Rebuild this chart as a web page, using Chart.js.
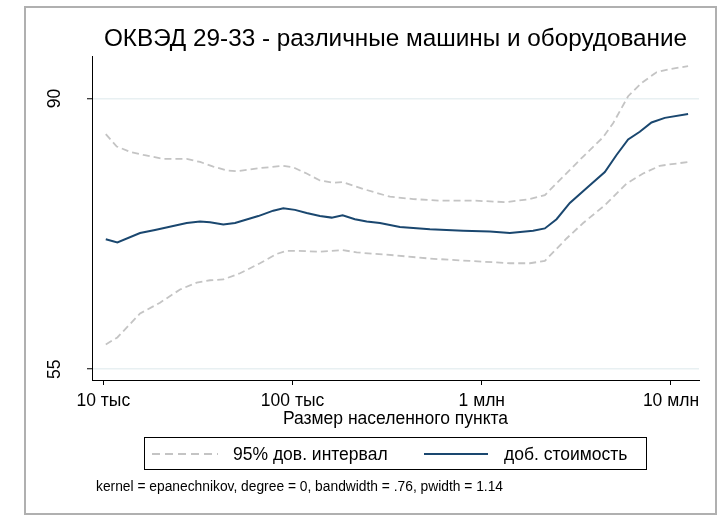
<!DOCTYPE html>
<html>
<head>
<meta charset="utf-8">
<script src="https://cdn.jsdelivr.net/npm/chart.js@4/dist/chart.umd.min.js"></script>
<style>
  body { margin: 0; background: #ffffff; }
</style>
</head>
<body>
<canvas id="chart" width="724" height="517"></canvas>
<script>
// Chart data (population of the settlement and value added)
const titleText = 'ОКВЭД 29-33 - различные машины и оборудование';
const xTitle = 'Размер населенного пункта';
const noteText = 'kernel = epanechnikov, degree = 0, bandwidth = .76, pwidth = 1.14';
const legendCI = '95% дов. интервал';
const legendMean = 'доб. стоимость';

const xTickValues = [10000, 100000, 1000000, 10000000];
const xTickLabels = ['10 тыс', '100 тыс', '1 млн', '10 млн'];
const yTickValues = [55, 90];

const popMean = [10300, 11860, 15630, 18750, 27580, 32430, 36630, 43050, 49630, 65900,
    79070, 89320, 102970, 118700, 139500, 160900, 183900, 213600, 246400, 289500,
    369300, 531900, 797500, 1104000, 1407000, 1868000, 2154000, 2484000, 2920000, 3724000,
    4470000, 5153000, 5935000, 6840000, 7888000, 9270000, 12310000];
const valMean = [71.8, 71.4, 72.6, 73.0, 73.9, 74.1, 74.0, 73.7, 73.9, 74.8,
    75.5, 75.8, 75.6, 75.2, 74.8, 74.6, 74.9, 74.4, 74.1, 73.9,
    73.4, 73.1, 72.9, 72.8, 72.6, 72.9, 73.2, 74.4, 76.5, 78.8,
    80.5, 82.7, 84.7, 85.7, 86.9, 87.5, 88.0];

const popUpper = [10300, 11770, 13840, 16270, 20750, 27580, 32430, 38110, 44860, 50660,
    67250, 89320, 100900, 118700, 139500, 164000, 183900, 236300, 327000, 434200,
    600700, 900700, 1352000, 1795000, 2154000, 2692000, 3434000, 4380000, 4943000, 5935000,
    6985000, 8384000, 9856000, 12310000];
const valUpper = [85.4, 83.8, 83.1, 82.7, 82.2, 82.2, 81.8, 81.2, 80.7, 80.6,
    81.0, 81.3, 81.1, 80.3, 79.4, 79.1, 79.2, 78.3, 77.3, 77.0,
    76.8, 76.8, 76.6, 77.0, 77.5, 79.9, 82.5, 85.0, 86.8, 90.3,
    92.0, 93.4, 93.8, 94.2];

const popLower = [10300, 11860, 15630, 19930, 25430, 31150, 36630, 43050, 52750, 67250,
    82410, 93080, 105100, 139500, 183900, 218100, 354800, 531900, 865200, 1197000,
    1407000, 1795000, 2154000, 2805000, 3434000, 4470000, 5821000, 7121000, 8726000, 12310000];
const valLower = [58.2, 59.1, 62.2, 63.6, 65.3, 66.2, 66.5, 66.6, 67.4, 68.7,
    69.9, 70.3, 70.3, 70.2, 70.4, 70.1, 69.7, 69.3, 69.0, 68.8,
    68.7, 68.7, 69.0, 71.9, 73.9, 76.2, 79.0, 80.3, 81.3, 81.8];

const FONT = '"Liberation Sans", Arial, sans-serif';
const navy = '#1a476f';
const ciGray = '#c4c4c4';

function toPoints(xs, ys) {
    return xs.map((x, i) => ({ x: x, y: ys[i] }));
}

// Frame, title, rotated y labels, legend box and note
const decorPlugin = {
    id: 'decor',
    beforeDraw(chart) {
        const c = chart.ctx;
        c.save();
        c.fillStyle = '#ffffff';
        c.fillRect(0, 0, chart.width, chart.height);
        c.strokeStyle = '#b0b0b0';
        c.lineWidth = 2;
        c.strokeRect(25, 7, 691, 507);
        c.restore();
    },
    afterDraw(chart) {
        const c = chart.ctx;
        const area = chart.chartArea;
        const yScale = chart.scales.y;
        c.save();
        c.fillStyle = '#000';

        // title
        c.font = '24.3px ' + FONT;
        c.textAlign = 'center';
        c.textBaseline = 'middle';
        c.fillText(titleText, (area.left + area.right) / 2, 39);

        // y tick labels, rotated
        c.font = '17.5px ' + FONT;
        yTickValues.forEach(v => {
            c.save();
            c.translate(55, yScale.getPixelForValue(v));
            c.rotate(-Math.PI / 2);
            c.fillText(String(v), 0, 0);
            c.restore();
        });

        // legend
        c.strokeStyle = '#000';
        c.lineWidth = 1;
        c.strokeRect(144.5, 437.5, 502, 32);
        c.lineWidth = 1.8;
        c.strokeStyle = ciGray;
        c.setLineDash([8, 5]);
        c.beginPath();
        c.moveTo(152, 454);
        c.lineTo(218, 454);
        c.stroke();
        c.setLineDash([]);
        c.strokeStyle = navy;
        c.lineWidth = 2;
        c.beginPath();
        c.moveTo(424, 454);
        c.lineTo(488, 454);
        c.stroke();
        c.textAlign = 'left';
        c.font = '17.5px ' + FONT;
        c.fillText(legendCI, 233, 455);
        c.fillText(legendMean, 504, 455);

        // note
        c.font = '13.8px ' + FONT;
        c.fillText(noteText, 96, 487);
        c.restore();
    }
};

const ctx = document.getElementById('chart');
const chart = new Chart(ctx, {
    type: 'line',
    data: {
        datasets: [
            {
                label: legendCI,
                data: toPoints(popUpper, valUpper),
                borderColor: ciGray,
                borderWidth: 1.8,
                borderDash: [7, 4],
                pointRadius: 0,
                tension: 0,
                fill: false
            },
            {
                label: legendCI,
                data: toPoints(popLower, valLower),
                borderColor: ciGray,
                borderWidth: 1.8,
                borderDash: [7, 4],
                pointRadius: 0,
                tension: 0,
                fill: false
            },
            {
                label: legendMean,
                data: toPoints(popMean, valMean),
                borderColor: navy,
                borderWidth: 2,
                pointRadius: 0,
                tension: 0,
                fill: false
            }
        ]
    },
    options: {
        responsive: false,
        animation: false,
        layout: {
            padding: { left: 52, right: 25, top: 56, bottom: 87 }
        },
        scales: {
            x: {
                type: 'logarithmic',
                position: 'bottom',
                min: 8710,
                max: 14060000,
                afterBuildTicks: s => { s.ticks = xTickValues.map(v => ({ value: v })); },
                afterFit: s => { s.height = 50; },
                ticks: {
                    color: '#000',
                    font: { family: FONT, size: 17.5 },
                    padding: 6,
                    maxRotation: 0,
                    autoSkip: false,
                    callback: v => {
                        const i = xTickValues.indexOf(v);
                        return i >= 0 ? xTickLabels[i] : '';
                    }
                },
                grid: {
                    drawOnChartArea: false,
                    drawTicks: true,
                    tickLength: 5,
                    tickColor: '#000',
                    tickWidth: 1
                },
                border: { color: '#000', width: 1 },
                title: {
                    display: true,
                    text: xTitle,
                    color: '#000',
                    font: { family: FONT, size: 17.5 },
                    padding: 0
                }
            },
            y: {
                type: 'linear',
                min: 53.6,
                max: 95.5,
                afterBuildTicks: s => { s.ticks = yTickValues.map(v => ({ value: v })); },
                afterFit: s => { s.width = 40; },
                ticks: { display: false },
                grid: {
                    color: '#e8f0f2',
                    lineWidth: 1.5,
                    drawTicks: true,
                    tickLength: 5,
                    tickColor: '#000',
                    tickWidth: 1
                },
                border: { color: '#000', width: 1 }
            }
        },
        plugins: {
            legend: { display: false },
            tooltip: { enabled: false }
        }
    },
    plugins: [decorPlugin]
});
</script>
</body>
</html>
